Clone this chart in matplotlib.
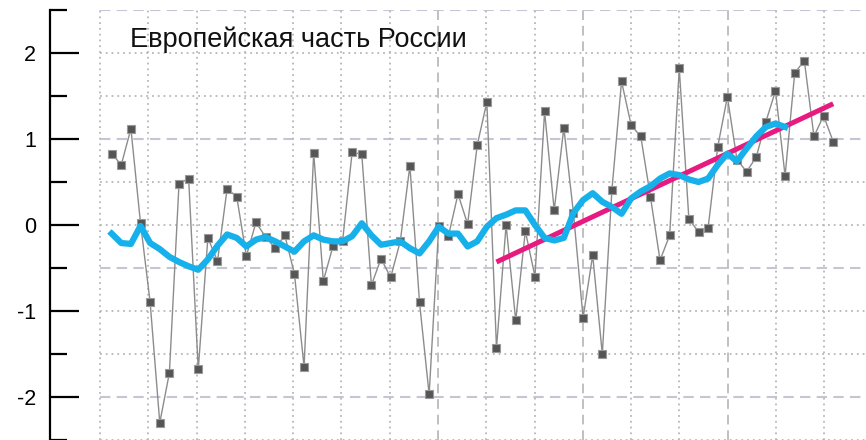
import numpy as np
import matplotlib
matplotlib.use("Agg")
import matplotlib.pyplot as plt

plt.rcParams['font.family'] = ['Liberation Sans', 'DejaVu Sans']
plt.rcParams['axes.unicode_minus'] = False

# anomalies, one per year
years = np.arange(1936, 2012)
anom = [0.83, 0.70, 1.12, 0.02, -0.90, -2.30, -1.72, 0.48, 0.54, -1.68,
        -0.15, -0.42, 0.42, 0.33, -0.36, 0.03, -0.14, -0.27, -0.12, -0.57,
        -1.65, 0.84, -0.65, -0.25, -0.19, 0.85, 0.82, -0.70, -0.39, -0.61,
        -0.19, 0.69, -0.90, -1.97, -0.01, -0.13, 0.36, 0.01, 0.93, 1.43,
        -1.43, 0.00, -1.11, -0.07, -0.60, 1.32, 0.17, 1.13, 0.14, -1.08,
        -0.35, -1.50, 0.41, 1.67, 1.16, 1.03, 0.33, -0.41, -0.12, 1.82,
        0.07, -0.08, -0.03, 0.91, 1.49, 0.76, 0.62, 0.79, 1.20, 1.56,
        0.57, 1.77, 1.91, 1.03, 1.27, 0.97]

# smoothed curve
smooth_years = np.arange(1936, 2007)
smooth = [-0.10, -0.21, -0.22, -0.01, -0.21, -0.28, -0.37, -0.43, -0.48, -0.52,
          -0.40, -0.24, -0.11, -0.15, -0.25, -0.17, -0.14, -0.19, -0.25, -0.31,
          -0.19, -0.12, -0.17, -0.19, -0.19, -0.13, 0.02, -0.12, -0.23, -0.21,
          -0.19, -0.27, -0.33, -0.19, -0.02, -0.10, -0.10, -0.25, -0.19, -0.02,
          0.08, 0.12, 0.17, 0.17, 0.00, -0.15, -0.18, -0.15, 0.14, 0.29,
          0.37, 0.27, 0.21, 0.13, 0.31, 0.39, 0.45, 0.54, 0.60, 0.58,
          0.53, 0.50, 0.54, 0.70, 0.83, 0.74, 0.89, 1.03, 1.14, 1.18,
          1.14]

# linear trend
trend_years = [1976, 2011]
trend_vals = [-0.43, 1.41]

title = "Европейская часть России"
yticks = [-2, -1, 0, 1, 2]

fig = plt.figure(figsize=(8.66, 4.40), dpi=100)
ax = fig.add_axes([50 / 866, 0, 816 / 866, 430 / 440])
x0, x1 = 1929.59, 2014.41
ax.set_xlim(x0, x1)
ax.set_ylim(-2.5, 2.5)

# grid
gx0 = 1934.78
for k, gy in enumerate(np.arange(2.5, -2.6, -0.5)):
    if k % 3 == 0:
        ax.hlines(gy, gx0, x1, colors='#c4c6d6', lw=1.5, ls=(0, (5, 3)), zorder=0)
    else:
        ax.hlines(gy, gx0, x1, colors='#b8b8b8', lw=1.3, ls=(0, (1, 2.2)), zorder=0)
for k in range(16):
    gx = gx0 + 5.02 * k
    if k % 3 == 1 and k > 4:
        ax.vlines(gx, -2.5, 2.5, colors='#c0c0c0', lw=1.4, ls=(0, (5, 3)), zorder=0)
    else:
        ax.vlines(gx, -2.5, 2.5, colors='#b8b8b8', lw=1.3, ls=(0, (1, 2.2)), zorder=0)

ax.plot(years, anom, color='#8c8c8c', lw=1.0, zorder=2)
ax.plot(years, anom, ls='none', marker='s', ms=5.5, mfc='#555555',
        mec='#9a9a9a', mew=0.8, zorder=3)
ax.plot(trend_years, trend_vals, color='#e8197f', lw=3.6,
        solid_capstyle='butt', zorder=4)
ax.plot(smooth_years, smooth, color='#16b0ea', lw=4.5,
        solid_joinstyle='round', zorder=5)

ax.text((130 - 50) / 816, 1 - 37 / 430, title, transform=ax.transAxes,
        fontsize=19.5, ha='left', va='baseline', color='#111111')

for s in ['top', 'right', 'bottom']:
    ax.spines[s].set_visible(False)
ax.spines['left'].set_linewidth(1.6)
ax.set_xticks([])
ax.set_yticks(yticks)
ax.set_yticklabels([str(t) for t in yticks])
ax.set_yticks([-2.5, -1.5, -0.5, 0.5, 1.5, 2.5], minor=True)
ax.tick_params(axis='y', which='major', direction='in', length=21, width=1.6,
               labelsize=15.5, pad=10)
ax.tick_params(axis='y', which='minor', direction='in', length=12, width=1.6)
ax.patch.set_alpha(0)

fig.savefig('out.png', dpi=100)
